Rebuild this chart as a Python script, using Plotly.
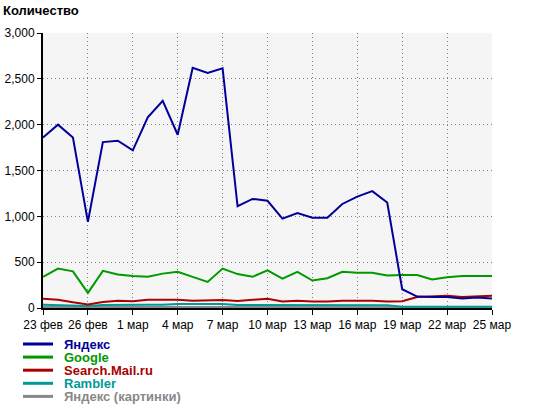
import plotly.graph_objects as go
import pandas as pd

# ---------------------------------------------------
# Данные: количество переходов по поисковым системам
# ---------------------------------------------------
dates = pd.date_range("2009-02-23", "2009-03-25", freq="D")

yandex = [1860, 2000, 1860, 940, 1810, 1825, 1720, 2080, 2260, 1890,
          2620, 2565, 2615, 1110, 1190, 1170, 975, 1035, 985, 985,
          1135, 1215, 1275, 1150, 205, 125, 120, 120, 105, 115, 105]
google = [340, 430, 400, 165, 405, 365, 350, 340, 375, 395,
          340, 285, 430, 370, 340, 410, 320, 395, 300, 325,
          395, 385, 385, 355, 360, 360, 310, 335, 350, 350, 350]
mail = [100, 90, 62, 38, 65, 80, 73, 90, 90, 90,
        80, 80, 88, 76, 88, 102, 70, 80, 70, 70,
        80, 80, 80, 70, 73, 120, 124, 135, 120, 127, 135]
rambler = [35, 32, 22, 22, 33, 36, 36, 36, 36, 45,
           45, 45, 45, 33, 33, 33, 29, 29, 29, 29,
           29, 29, 29, 29, 15, 15, 15, 15, 15, 15, 15]
yandex_img = [12, 12, 12, 10, 12, 12, 12, 10, 12, 12,
              12, 12, 12, 10, 12, 12, 14, 14, 12, 12,
              12, 12, 12, 12, 10, 10, 10, 10, 8, 4, 10]

tick_labels = ["23 фев", "26 фев", "1 мар", "4 мар", "7 мар", "10 мар",
               "13 мар", "16 мар", "19 мар", "22 мар", "25 мар"]

series = [
    ("Яндекс", yandex, "#000099"),
    ("Google", google, "#009900"),
    ("Search.Mail.ru", mail, "#aa0000"),
    ("Rambler", rambler, "#009999"),
    ("Яндекс (картинки)", yandex_img, "#888888"),
]

fig = go.Figure()

# рисуем снизу вверх, чтобы Яндекс был поверх
for name, values, color in reversed(series):
    fig.add_trace(
        go.Scatter(
            x=dates,
            y=values,
            mode="lines",
            name=name,
            line=dict(color=color, width=2),
        )
    )

# ручная легенда под графиком (плотный шаг строк)
for i, (name, values, color) in enumerate(series):
    y_px = 344 + i * 13.1
    y_paper = (308 - y_px) / 275
    fig.add_shape(
        type="line",
        xref="paper",
        yref="paper",
        x0=-20 / 449,
        x1=10 / 449,
        y0=y_paper,
        y1=y_paper,
        line=dict(color=color, width=3),
    )
    fig.add_annotation(
        xref="paper",
        yref="paper",
        x=20 / 449,
        y=y_paper,
        xanchor="left",
        yanchor="middle",
        borderpad=0,
        text=f"<b>{name}</b>",
        showarrow=False,
        font=dict(color=color, size=13, family="Arial, Liberation Sans, sans-serif"),
    )

fig.update_layout(
    width=539,
    height=413,
    margin=dict(l=43, r=47, t=33, b=105, autoexpand=False),
    paper_bgcolor="white",
    plot_bgcolor="#f5f5f5",
    showlegend=False,
    font=dict(family="Arial, Liberation Sans, sans-serif", size=12, color="black"),
    title=dict(
        text="<b>Количество</b>",
        font=dict(size=13, color="black"),
        x=3 / 539,
        xanchor="left",
        xref="container",
        y=1 - 6 / 413,
        yanchor="top",
        yref="container",
    ),
)

grid_style = dict(
    showgrid=True,
    gridcolor="#808080",
    gridwidth=1,
    griddash="1px,3px",
    showline=True,
    linecolor="black",
    linewidth=2,
    ticks="outside",
    tickwidth=1,
    tickcolor="black",
    zeroline=False,
    automargin=False,
)

fig.update_xaxes(
    range=[dates[0], dates[-1]],
    tickvals=dates[::3],
    ticktext=tick_labels,
    ticklen=5,
    **grid_style,
)
fig.update_yaxes(
    range=[0, 3000],
    dtick=500,
    tickformat=",d",
    ticklen=4,
    **grid_style,
)

# убираем отступ body, чтобы график стоял в углу окна
fig.write_html(
    "out.html",
    config={"displayModeBar": False},
    post_script="document.body.style.margin='0';",
)
